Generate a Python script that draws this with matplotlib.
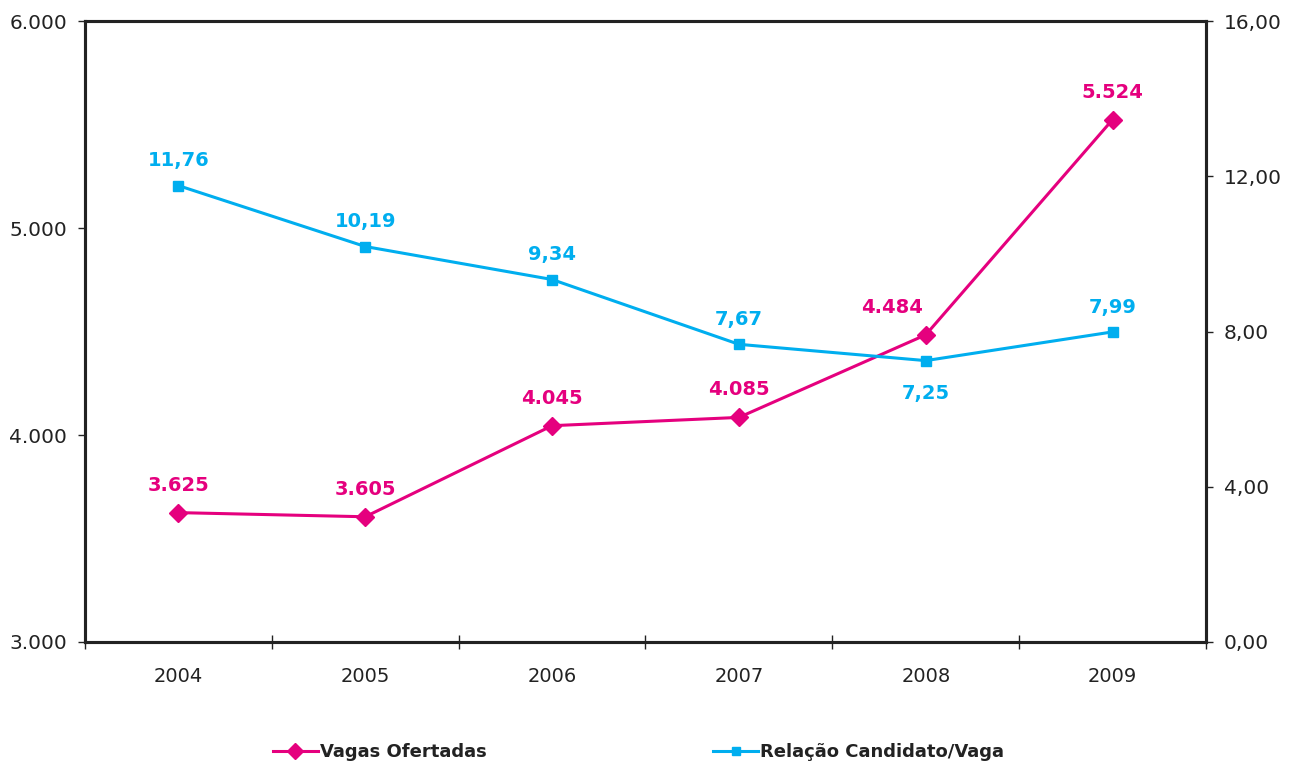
import numpy as np
import matplotlib.pyplot as plt
from matplotlib.ticker import FuncFormatter

years = ['2004', '2005', '2006', '2007', '2008', '2009']
vagas = [3625, 3605, 4045, 4085, 4484, 5524]
relacao = [11.76, 10.19, 9.34, 7.67, 7.25, 7.99]
vagas_labels = ['3.625', '3.605', '4.045', '4.085', '4.484', '5.524']
relacao_labels = ['11,76', '10,19', '9,34', '7,67', '7,25', '7,99']

pink = '#E5007E'
blue = '#00AEEF'
txt = '#222222'

plt.rcParams['font.family'] = ['DejaVu Sans']

fig = plt.figure(figsize=(12.95, 7.65), dpi=100)
ax = fig.add_axes([0.0656, 0.1608, 0.8657, 0.8117])
ax2 = ax.twinx()

x = np.arange(len(years))

ax.plot(x, vagas, color=pink, lw=2.2, marker='D', ms=9, zorder=3)
ax2.plot(x, relacao, color=blue, lw=2.2, marker='s', ms=7, zorder=3)

for i, (xi, v, lab) in enumerate(zip(x, vagas, vagas_labels)):
    dx = -24 if i == 4 else 0  # 2008 label sits left of the point
    ax.annotate(lab, (xi, v), xytext=(dx, 13), textcoords='offset points',
                ha='center', va='bottom', color=pink, fontsize=14, fontweight='bold')
for i, (xi, v, lab) in enumerate(zip(x, relacao, relacao_labels)):
    off = -17 if i == 4 else 11
    ax2.annotate(lab, (xi, v), xytext=(0, off), textcoords='offset points',
                 ha='center', va='top' if i == 4 else 'bottom',
                 color=blue, fontsize=14, fontweight='bold')

ax.set_xlim(-0.5, 5.5)
ax.set_ylim(3000, 6000)
ax2.set_ylim(0, 16)
ax.set_yticks([3000, 4000, 5000, 6000])
ax2.set_yticks([0, 4, 8, 12, 16])
ax.yaxis.set_major_formatter(FuncFormatter(lambda v, p: f'{int(v):,}'.replace(',', '.')))
ax2.yaxis.set_major_formatter(FuncFormatter(lambda v, p: f'{v:.2f}'.replace('.', ',')))

ax.set_xticks(np.arange(-0.5, 6, 1))
ax.set_xticklabels([])
ax.set_xticks(x, minor=True)
ax.set_xticklabels(years, minor=True)
ax.tick_params(axis='x', which='major', direction='inout', length=10, width=1, color=txt)
ax.tick_params(axis='x', which='minor', length=0, pad=18, labelsize=14, labelcolor=txt)
ax.tick_params(axis='y', direction='out', length=5, width=1, pad=8, labelsize=14.5, labelcolor=txt, color=txt)
ax2.tick_params(axis='y', direction='out', length=5, width=1, pad=8, labelsize=14.5, labelcolor=txt, color=txt)

for a in (ax, ax2):
    for s in a.spines.values():
        s.set_linewidth(2.2)
        s.set_color(txt)

h1, = ax.plot([], [], color=pink, lw=2.2, marker='D', ms=8)
h2, = ax.plot([], [], color=blue, lw=2.2, marker='s', ms=6)
fig.legend([h1], ['Vagas Ofertadas'], loc='center left', bbox_to_anchor=(0.198, 0.017),
           frameon=False, handlelength=2.5, handletextpad=0.1,
           prop={'weight': 'bold', 'size': 13})
fig.legend([h2], ['Relação Candidato/Vaga'], loc='center left', bbox_to_anchor=(0.538, 0.017),
           frameon=False, handlelength=2.5, handletextpad=0.1,
           prop={'weight': 'bold', 'size': 13})
for t in fig.legends:
    for tx in t.get_texts():
        tx.set_color(txt)

fig.savefig('out.png', dpi=100)
